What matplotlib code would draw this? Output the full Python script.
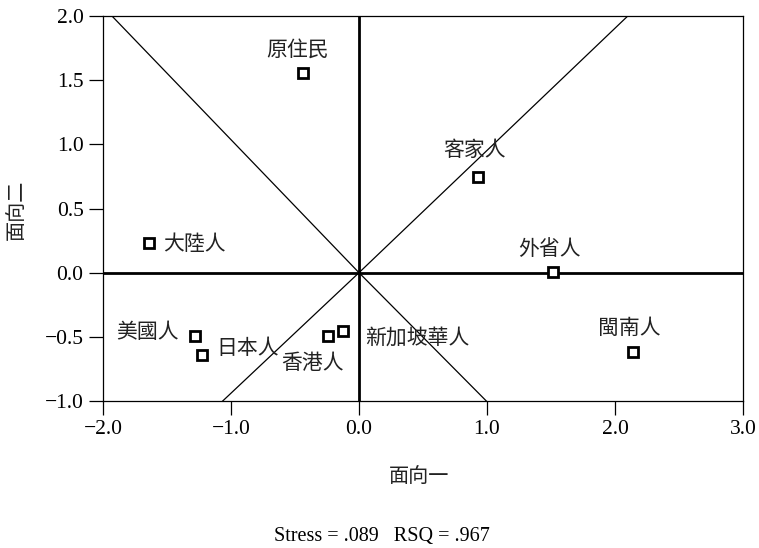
import matplotlib.pyplot as plt

plt.rcParams['font.family'] = ['Liberation Serif', 'Noto Sans CJK TC']

# MDS coordinates of each group
groups = ['原住民', '客家人', '大陸人', '外省人', '閩南人',
          '美國人', '日本人', '香港人', '新加坡華人']
dim1 = [-0.435, 0.932, -1.638, 1.513, 2.138, -1.281, -1.224, -0.240, -0.127]
dim2 = [1.557, 0.745, 0.232, 0.002, -0.617, -0.492, -0.640, -0.497, -0.453]

# where each name is written
label_x = [-0.48, 0.906, -1.53, 1.49, 2.11, -1.406, -1.112, -0.365, 0.047]
label_y = [1.74, 0.953, 0.224, 0.185, -0.427, -0.459, -0.584, -0.70, -0.505]
label_ha = ['center', 'center', 'left', 'center', 'center',
            'right', 'left', 'center', 'left']

# two dividing lines through the origin
line_a_x = [-1.93, 0.0, 0.995]
line_a_y = [2.0, 0.0, -1.0]
line_b_x = [-1.065, 0.0, 2.1]
line_b_y = [-1.0, 0.0, 2.0]

xticks = [-2.0, -1.0, 0.0, 1.0, 2.0, 3.0]
yticks = [-1.0, -0.5, 0.0, 0.5, 1.0, 1.5, 2.0]

fig = plt.figure(figsize=(7.59, 5.48), dpi=100)
ax = fig.add_axes([0.1357, 0.2682, 0.8432, 0.7026])

ax.axhline(0, color='black', lw=2.0, zorder=2)
ax.axvline(0, color='black', lw=2.0, zorder=2)
ax.plot(line_a_x, line_a_y, color='black', lw=0.9, zorder=2)
ax.plot(line_b_x, line_b_y, color='black', lw=0.9, zorder=2)

ax.plot(dim1, dim2, 's', ms=7.5, mfc='white', mec='black', mew=2.0,
        ls='none', zorder=3)

cjk = ['Noto Sans CJK TC', 'DejaVu Sans']
for name, tx, ty, ha in zip(groups, label_x, label_y, label_ha):
    ax.text(tx, ty, name, ha=ha, va='center', fontsize=15, family=cjk,
            color='#222222', zorder=4)

ax.set_xlim(-2.0, 3.0)
ax.set_ylim(-1.0, 2.0)
ax.set_xticks(xticks)
ax.set_yticks(yticks)
ax.set_xticklabels([f'{v:.1f}'.replace('-', '\u2212') for v in xticks])
ax.set_yticklabels([f'{v:.1f}'.replace('-', '\u2212') for v in yticks])
ax.tick_params(direction='out', length=10, width=0.9, labelsize=15.5, pad=4)
for s in ax.spines.values():
    s.set_linewidth(0.9)

fig.text(0.552, 1 - 476.7 / 548, '面向一', ha='center', va='center',
         fontsize=14.5, family=cjk, color='#222222')
fig.text(0.022, 1 - 210 / 548, '面向二', ha='center', va='center',
         rotation=90, fontsize=14.5, family=cjk, color='#222222')
fig.text(0.503, 1 - 536.7 / 548, 'Stress = .089   RSQ = .967',
         ha='center', va='center', fontsize=14.5)

fig.savefig('out.png', dpi=100)
